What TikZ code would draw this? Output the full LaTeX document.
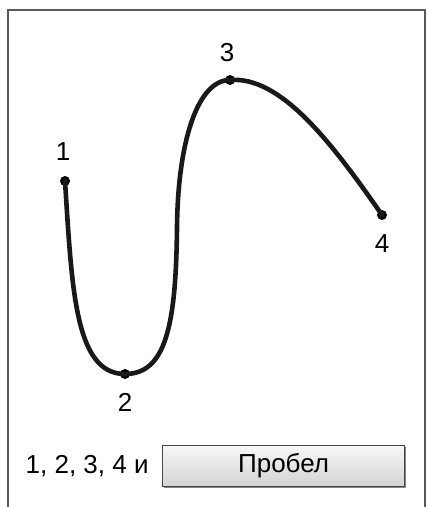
\documentclass[tikz,border=0pt]{standalone}
\usepackage{fontspec}
\setmainfont{Liberation Sans}
\usetikzlibrary{positioning,shadows}
\tikzset{
  frame/.style={draw=black!65,line width=1pt},
  curve/.style={draw=black!90,line width=2.3pt,line cap=round},
  dot/.style={circle,fill=black,inner sep=0pt,minimum size=5pt},
  num/.style={font=\fontsize{13}{15}\selectfont,inner sep=1pt},
  keybtn/.style={draw=gray!55!black,line width=0.6pt,top color=gray!6,bottom color=gray!35,
                 minimum width=121pt,minimum height=20.5pt,inner sep=0pt,
                 font=\fontsize{13}{15}\selectfont,
                 drop shadow={shadow xshift=0.8pt,shadow yshift=-0.8pt,fill=black!60,opacity=0.8}},
}

\begin{document}
\begin{tikzpicture}[x=0.5pt,y=-0.5pt]
  \useasboundingbox (0,0) rectangle (427,507);
  % --- frame, open at the bottom ---
  \draw[frame] (8,510) -- (8,10) -- (425,10) -- (425,510);
  % --- the four points ---
  \node[dot] (p1) at (65,181) {};
  \node[dot] (p2) at (125,374) {};
  \node[dot] (p3) at (230,80) {};
  \node[dot] (p4) at (382,215) {};
  \coordinate (mid) at (177,227);
  \node[num,above=6.5pt of p1,xshift=-1pt] (l1) {1};
  \node[num,below=6pt of p2] (l2) {2};
  \node[num,above=5pt of p3,xshift=-1.5pt] (l3) {3};
  \node[num,below=6pt of p4] (l4) {4};
  % --- the curve through them ---
  \draw[curve] (p1.center) .. controls (72,290) and (75,374) .. (p2.center)
               .. controls (166,374) and (176,325) .. (mid)
               .. controls (178,140) and (198,80) .. (p3.center)
               .. controls (280,76) and (330,140) .. (p4.center);
  % --- keys ---
  \node[num,anchor=east] (keys) at (151,466) {1, 2, 3, 4 и};
  \node[keybtn,right=5.5pt of keys] (space) {Пробел};
\end{tikzpicture}
\end{document}
